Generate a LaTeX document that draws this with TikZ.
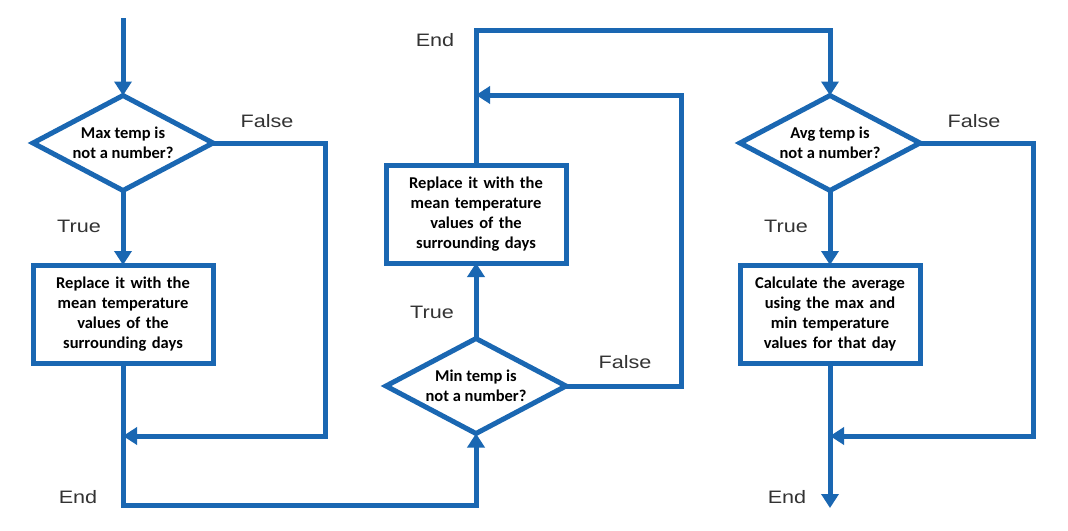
\documentclass[tikz,border=0pt]{standalone}
\usepackage{fontspec}
\setmainfont{Carlito}
\newfontfamily\labfont[FakeStretch=1.2]{Liberation Sans}
\usetikzlibrary{shapes.geometric,arrows.meta}
\definecolor{fcblue}{HTML}{1A67B2}
\begin{document}
\begin{tikzpicture}[x=1pt,y=-1pt,
  line width=5pt,
  arr/.style={draw=fcblue,line width=5pt,-{Triangle[width=17pt,length=14pt]}},
  dec/.style={diamond,draw=fcblue,line width=5pt,aspect=1.93,inner sep=0pt,outer sep=0pt,
     minimum width=180pt,minimum height=95pt,align=center,
     font=\fontsize{16.5}{20}\selectfont\bfseries},
  procbox/.style={rectangle,draw=fcblue,line width=5pt,inner sep=0pt,outer sep=0pt,
     minimum width=180pt,minimum height=98pt,text width=172pt,align=center,
     font=\fontsize{16.5}{20}\selectfont\bfseries},
  lab/.style={font=\labfont\fontsize{18}{20}\selectfont,text=black!80,inner sep=0pt}]
\useasboundingbox (0,0) rectangle (1068,530);
\fill[white] (0,0) rectangle (1068,530);

% nodes
\coordinate (start) at (123,18);
\node[dec] (d1) at (123,143) {Max temp is\\not a number?};
\node[procbox] (b1) at (123,314) {Replace it with the\\mean temperature\\values of the\\surrounding days};
\node[dec] (d2) at (476,386) {Min temp is\\not a number?};
\node[procbox] (b2) at (476,214) {Replace it with the\\mean temperature\\values of the\\surrounding days};
\node[dec] (d3) at (830,143) {Avg temp is\\not a number?};
\node[procbox] (b3) at (830,314) {Calculate the average\\using the max and\\min temperature\\values for that day};

\coordinate (c1) at (325,436);
\coordinate (m1) at (123,436);
\coordinate (c2) at (476,505);
\coordinate (c3) at (681,95);
\coordinate (m2) at (476,95);
\coordinate (c4) at (830,30);
\coordinate (c5) at (1033,436);
\coordinate (m3) at (830,436);
\coordinate (endR) at (830,508);

% connectors
\draw[arr] (start) -- (d1.north);
\draw[arr] (d1.south) -- (b1.north);
\draw[arr] (d1.east) -| (c1) -- (m1);
\draw[arr] (b1.south) |- (c2) -- (d2.south);
\draw[arr] (d2.north) -- (b2.south);
\draw[arr] (d2.east) -| (c3) -- (m2);
\draw[arr] (b2.north) |- (c4) -- (d3.north);
\draw[arr] (d3.south) -- (b3.north);
\draw[arr] (d3.east) -| (c5) -- (m3);
\draw[arr] (b3.south) -- (endR);

% labels
\node[lab] (l1) at (267,121) {False};
\node[lab] (l2) at (79,226) {True};
\node[lab] (l3) at (78,497) {End};
\node[lab] (l4) at (435,40) {End};
\node[lab] (l5) at (432,312) {True};
\node[lab] (l6) at (625,362) {False};
\node[lab] (l7) at (974,121) {False};
\node[lab] (l8) at (786,226) {True};
\node[lab] (l9) at (787,497) {End};
\end{tikzpicture}
\end{document}
